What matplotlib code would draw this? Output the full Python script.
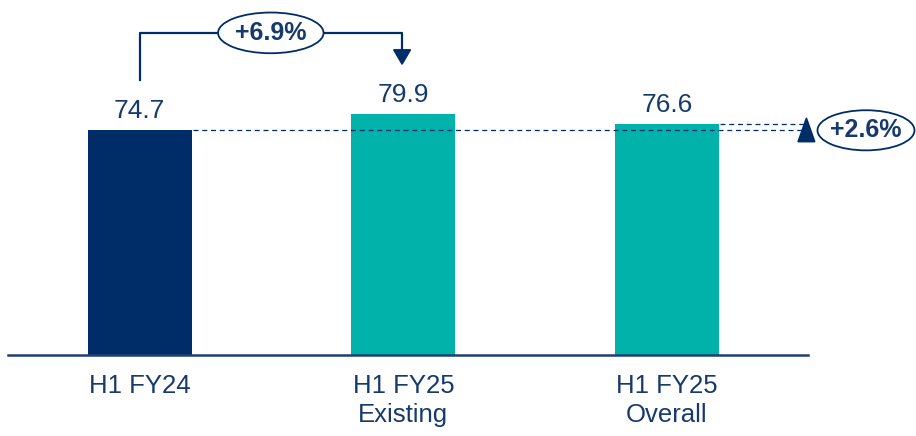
import matplotlib.pyplot as plt
from matplotlib.patches import Ellipse, Polygon

categories = ["H1 FY24", "H1 FY25\nExisting", "H1 FY25\nOverall"]
values = [74.7, 79.9, 76.6]
value_labels = ["74.7", "79.9", "76.6"]
growth_existing = "+6.9%"
growth_overall = "+2.6%"

navy = "#002D68"
teal = "#00B2A9"
text_col = "#163A6C"

plt.rcParams['font.family'] = ['Liberation Sans', 'DejaVu Sans']

fig = plt.figure(figsize=(9.16, 4.36), dpi=100)
ax = fig.add_axes([8 / 916, 81 / 436, 800 / 916, 355 / 436])

x = list(range(len(values)))
ax.bar(x, values, width=0.395, color=[navy, teal, teal], zorder=2)
ax.set_xlim(-0.5, 2.535)
ax.set_ylim(0, 117.7)

for xi, v, lab in zip(x, values, value_labels):
    ax.text(xi, v + 4, lab, ha='center', va='baseline', fontsize=19, color=text_col)

ax.set_xticks(x)
ax.set_xticklabels(categories, fontsize=18.5, color=text_col, linespacing=1.3)
ax.tick_params(axis='x', length=0, pad=13.5)
ax.set_yticks([])
for s in ['top', 'right', 'left']:
    ax.spines[s].set_visible(False)
ax.spines['bottom'].set_color('#1F3F73')
ax.spines['bottom'].set_linewidth(1.8)

# bracket for existing growth
top_y = 106.8
ax.plot([0, 0, 0.995, 0.995], [91.2, top_y, top_y, 100.5],
        color=navy, lw=1.6, clip_on=False, zorder=3)
ax.add_patch(Polygon([[0.963, 101.2], [1.027, 101.2], [0.995, 96.4]],
                     closed=True, color=navy, clip_on=False, zorder=3))
ax.add_patch(Ellipse((0.497, top_y), 0.40, 13.5, facecolor='white',
                     edgecolor=navy, lw=1.3, clip_on=False, zorder=4))
ax.text(0.497, top_y, growth_existing, ha='center', va='center', fontsize=18,
        fontweight='bold', color=text_col, zorder=5)

# dashed reference lines
ax.plot([0.2, 2.535], [values[0], values[0]], ls=(0, (4, 3)), color=navy,
        lw=0.9, clip_on=False, zorder=3)
ax.plot([2.2, 2.535], [values[2], values[2]], ls=(0, (4, 3)), color=navy,
        lw=0.9, clip_on=False, zorder=3)

# overall growth marker
ax.add_patch(Polygon([[2.497, 70.7], [2.561, 70.7], [2.529, 78.6]],
                     closed=True, color=navy, clip_on=False, zorder=3))
ax.add_patch(Ellipse((2.755, 74.5), 0.368, 13.3, facecolor='white',
                     edgecolor=navy, lw=1.3, clip_on=False, zorder=4))
ax.text(2.755, 74.5, growth_overall, ha='center', va='center', fontsize=18,
        fontweight='bold', color=text_col, zorder=5)

fig.savefig("out.png", dpi=100)
